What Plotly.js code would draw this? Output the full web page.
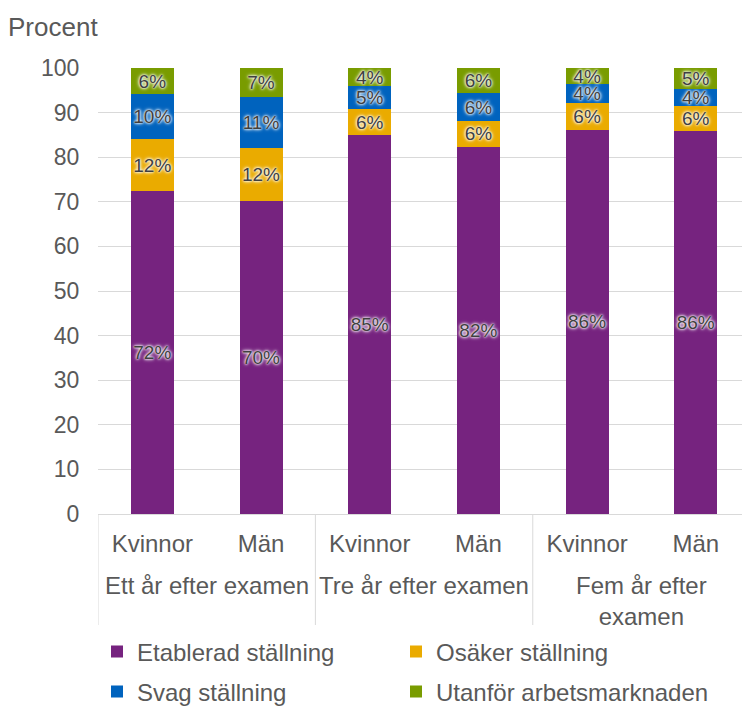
<!DOCTYPE html>
<html><head><meta charset="utf-8">
<script src="https://cdn.plot.ly/plotly-3.0.1.min.js"></script>
<style>body{margin:0;background:#fff}#c{width:742px;height:706px}</style>
</head><body><div id="c"></div>
<script>
const groups = ["Ett år efter examen","Ett år efter examen","Tre år efter examen","Tre år efter examen","Fem år efter<br>examen","Fem år efter<br>examen"];
const genders = ["Kvinnor","Män","Kvinnor","Män","Kvinnor","Män"];
const etablerad = [72.4, 70.2, 84.9, 82.4, 86.2, 85.8];
const osaker = [11.6, 11.9, 5.8, 5.7, 6.0, 5.6];
const svag = [10.1, 11.3, 5.2, 6.2, 4.2, 4.0];
const utanfor = [5.9, 6.6, 4.1, 5.7, 3.6, 4.6];
const seriesNames = ["Etablerad ställning","Osäker ställning","Svag ställning","Utanför arbetsmarknaden"];
const seriesColors = ["#76237F","#EAAB00","#0063BE","#799C00"];
const seriesData = [etablerad, osaker, svag, utanfor];

const FONT = "Liberation Sans, Arial, sans-serif";
const GRAY = "#595959";
const LINE = "#d9d9d9";
const pY = px => (706 - px) / 706;

// unique category key per bar, shown with the gender as tick text
const cats = groups.map((g, i) => g + "|" + genders[i]);
const legendIds = seriesNames.map((n, i) => i === 0 ? "legend" : "legend" + (i + 1));

const traces = seriesData.map((vals, i) => ({
  type: "bar",
  name: seriesNames[i],
  legend: legendIds[i],
  x: cats,
  y: vals,
  text: vals.map(v => Math.round(v) + "%"),
  textposition: "inside",
  insidetextanchor: "middle",
  textangle: 0,
  constraintext: "none",
  textfont: {family: FONT, size: 19, color: "#404040", shadow: "0px 0px 2px #fff, 0px 0px 3px #fff, 0px 0px 4px #fff"},
  marker: {color: seriesColors[i], line: {width: 0}},
  hoverinfo: "skip"
}));

// group labels and dividers derived from the groups array
const uniqueGroups = [...new Set(groups)];
const axisBottomPx = 514, dividerEndPx = 625, groupTopPx = 570;
const annotations = [{
  text: "Procent", xref: "paper", yref: "paper", x: 6/742, y: pY(27),
  xanchor: "left", yanchor: "middle", showarrow: false,
  font: {family: FONT, size: 26, color: GRAY}
}];
const shapes = [];
uniqueGroups.forEach(g => {
  const idx = groups.map((v, i) => v === g ? i : -1).filter(i => i >= 0);
  const first = Math.min(...idx), last = Math.max(...idx);
  annotations.push({
    text: g, xref: "x", yref: "paper", x: (first + last) / 2, y: pY(groupTopPx),
    xanchor: "center", yanchor: "top", showarrow: false, align: "center",
    font: {family: FONT, size: 24, color: GRAY}
  });
  shapes.push({
    type: "line", xref: "x", yref: "paper",
    x0: first - 0.5, x1: first - 0.5, y0: pY(axisBottomPx), y1: pY(dividerEndPx),
    line: {color: LINE, width: 1}
  });
});

// legend: 2 columns x 2 rows
const legendPos = [[97, 652], [396, 652], [97, 692], [396, 692]];
const layout = {
  width: 742, height: 706,
  barmode: "stack",
  bargap: 0.604,
  showlegend: true,
  paper_bgcolor: "#fff", plot_bgcolor: "#fff",
  font: {family: FONT, size: 24, color: GRAY},
  margin: {l: 0, r: 0, t: 0, b: 0, autoexpand: false},
  xaxis: {
    type: "category",
    domain: [98/742, 1],
    range: [-0.5, 5.425],
    tickvals: cats, ticktext: genders,
    ticklabelstandoff: 8,
    automargin: false,
    showline: true, linecolor: LINE, linewidth: 1,
    ticks: "", tickfont: {family: FONT, size: 24, color: GRAY},
    fixedrange: true
  },
  yaxis: {
    domain: [pY(axisBottomPx), pY(68)],
    automargin: false,
    range: [0, 100], dtick: 10, tick0: 0,
    showgrid: true, gridcolor: LINE, gridwidth: 1,
    zeroline: false, showline: false,
    ticks: "outside", ticklen: 13, tickcolor: "rgba(0,0,0,0)",
    tickfont: {family: FONT, size: 23, color: GRAY},
    fixedrange: true
  },
  annotations: annotations,
  shapes: shapes
};
legendIds.forEach((id, i) => {
  layout[id] = {
    orientation: "h", xanchor: "left", yanchor: "middle",
    x: legendPos[i][0] / 742, y: pY(legendPos[i][1]),
    font: {family: FONT, size: 24, color: GRAY},
    itemwidth: 30, bgcolor: "rgba(0,0,0,0)"
  };
});
Plotly.newPlot("c", traces, layout, {displayModeBar: false, staticPlot: true});
</script></body></html>
